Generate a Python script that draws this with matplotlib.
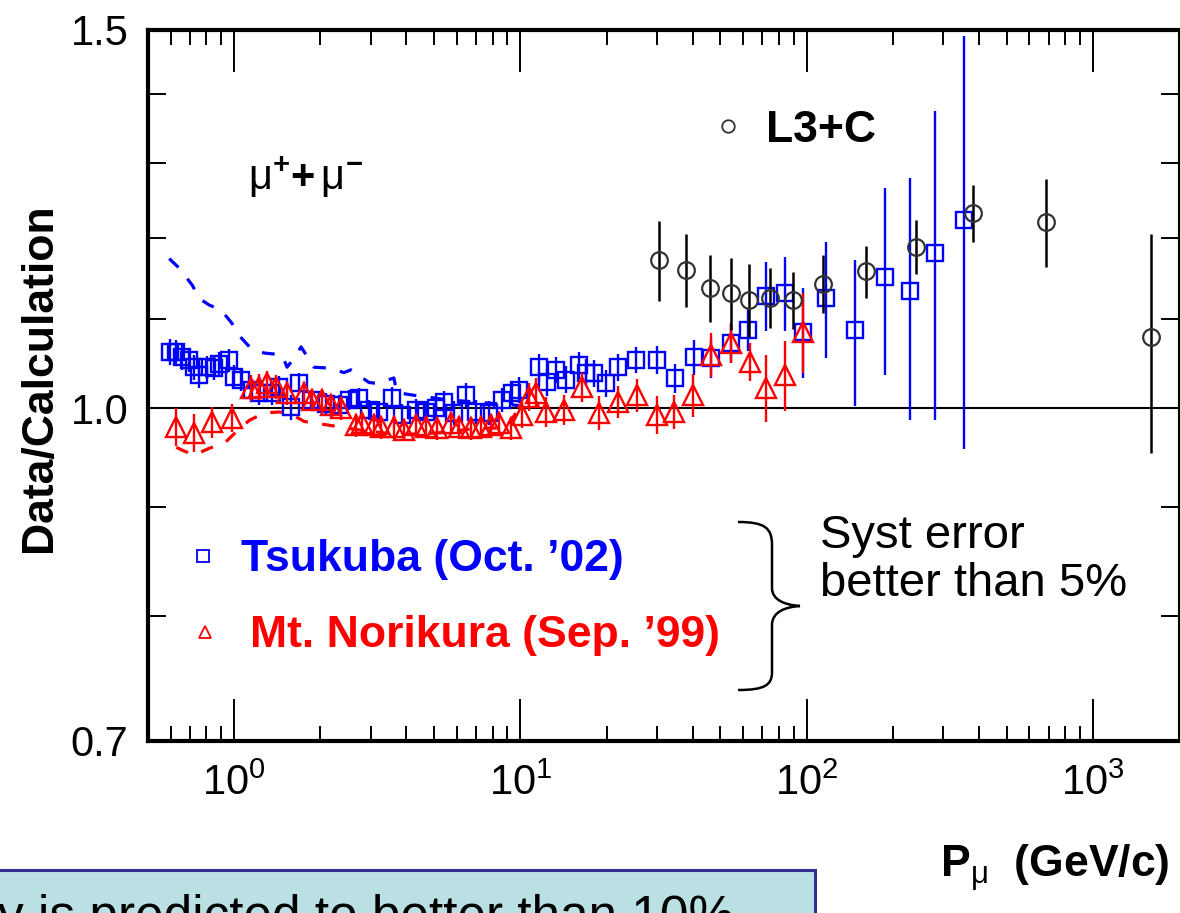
import matplotlib.pyplot as plt
from matplotlib.lines import Line2D
from matplotlib.patches import Rectangle, PathPatch
from matplotlib.path import Path
from matplotlib.ticker import FixedLocator, FixedFormatter, NullFormatter

plt.rcParams['font.family'] = ['Liberation Sans', 'DejaVu Sans']
plt.rcParams['mathtext.fontset'] = 'custom'
plt.rcParams['mathtext.rm'] = 'Liberation Sans'
plt.rcParams['mathtext.it'] = 'Liberation Sans:italic'
plt.rcParams['mathtext.bf'] = 'Liberation Sans:bold'

# Tsukuba (Oct. '02): momentum [GeV/c], data/calculation ratio, error
tsukuba_p = [0.598, 0.628, 0.659, 0.697, 0.725, 0.755, 0.805, 0.852, 0.887, 0.961,
             1.00, 1.058, 1.156, 1.222, 1.357, 1.435, 1.580, 1.686, 1.856, 2.094,
             2.324, 2.518, 2.729, 2.958, 3.205, 3.557, 3.855, 4.314, 4.674, 5.066,
             5.402, 5.852, 6.443, 6.983, 7.752, 8.607, 9.327, 9.865, 11.58, 12.35,
             13.28, 14.39, 15.97, 16.90, 18.02, 19.84, 21.9, 25.4, 30.0, 34.8,
             40.5, 46.5, 54.6, 62.6, 72.3, 84.2, 97.3, 117.1, 147.8, 188.0,
             229.8, 281.0, 354.6]
tsukuba_r = [1.062, 1.062, 1.056, 1.053, 1.045, 1.036, 1.045, 1.044, 1.049, 1.053,
             1.034, 1.031, 1.020, 1.016, 1.016, 1.023, 1.001, 1.027, 1.009, 1.005,
             1.003, 1.009, 1.011, 0.998, 0.996, 1.011, 0.993, 0.998, 0.996, 1.000,
             1.007, 0.995, 1.014, 0.996, 0.995, 1.009, 1.017, 1.020, 1.045, 1.028,
             1.042, 1.031, 1.047, 1.039, 1.038, 1.027, 1.045, 1.053, 1.053, 1.033,
             1.056, 1.055, 1.072, 1.088, 1.128, 1.131, 1.085, 1.125, 1.087, 1.151,
             1.134, 1.181, 1.224]
tsukuba_e = [0.015, 0.014, 0.014, 0.013, 0.014, 0.014, 0.013, 0.013, 0.013, 0.013,
             0.013, 0.012, 0.012, 0.012, 0.012, 0.012, 0.013, 0.012, 0.011, 0.011,
             0.011, 0.011, 0.011, 0.011, 0.012, 0.012, 0.012, 0.012, 0.012, 0.012,
             0.012, 0.013, 0.013, 0.013, 0.013, 0.013, 0.013, 0.014, 0.015, 0.015,
             0.015, 0.015, 0.015, 0.015, 0.015, 0.015, 0.015, 0.015, 0.016, 0.016,
             0.020, 0.022, 0.022, 0.025, 0.042, 0.045, 0.052, 0.070, 0.085, 0.115,
             0.146, 0.194, 0.267]

# Mt. Norikura (Sep. '99)
norikura_p = [0.628, 0.725, 0.838, 0.984, 1.146, 1.222, 1.303, 1.401, 1.530, 1.755,
              1.871, 2.027, 2.180, 2.362, 2.664, 2.796, 3.079, 3.257, 3.614, 3.917,
              4.314, 4.674, 5.106, 5.713, 6.091, 6.707, 7.270, 7.878, 8.402, 9.252,
              10.10, 10.69, 11.31, 12.25, 14.16, 16.36, 18.76, 22.0, 25.6, 30.0,
              34.5, 40.2, 46.5, 54.6, 63.6, 72.3, 84.2, 97.3]
norikura_r = [0.980, 0.974, 0.985, 0.990, 1.022, 1.023, 1.027, 1.023, 1.016, 1.017,
              1.009, 1.009, 1.003, 1.000, 0.982, 0.984, 0.982, 0.980, 0.980, 0.977,
              0.982, 0.980, 0.979, 0.984, 0.980, 0.979, 0.980, 0.982, 0.984, 0.979,
              0.993, 1.012, 1.017, 0.996, 0.998, 1.023, 0.995, 1.007, 1.014, 0.993,
              0.996, 1.014, 1.059, 1.073, 1.051, 1.022, 1.036, 1.085]
norikura_e = [0.020, 0.020, 0.016, 0.015, 0.014, 0.014, 0.014, 0.013, 0.012, 0.012,
              0.012, 0.012, 0.012, 0.012, 0.012, 0.012, 0.012, 0.012, 0.012, 0.012,
              0.012, 0.012, 0.012, 0.012, 0.012, 0.012, 0.012, 0.012, 0.012, 0.012,
              0.014, 0.015, 0.016, 0.016, 0.016, 0.016, 0.018, 0.017, 0.018, 0.020,
              0.018, 0.023, 0.025, 0.023, 0.021, 0.037, 0.039, 0.047]

# L3+C
l3c_p = [30.4, 38.0, 46.1, 54.6, 63.1, 74.6, 89.8, 114.3, 161.4, 241.2, 381.2, 685.0, 1592.0]
l3c_r = [1.172, 1.160, 1.138, 1.131, 1.123, 1.126, 1.123, 1.143, 1.158, 1.189, 1.233, 1.221, 1.079]
l3c_e = [0.050, 0.045, 0.041, 0.044, 0.044, 0.036, 0.034, 0.035, 0.032, 0.034, 0.038, 0.057, 0.126]

# ratios against the alternative calculation (dashed)
tsukuba_alt_p = [0.593, 0.643, 0.714, 0.755, 0.818, 0.901, 0.984, 1.041, 1.146, 1.272,
                 1.470, 1.530, 1.619, 1.713, 1.901, 2.145, 2.419, 2.559, 2.958, 3.154,
                 3.614, 3.703, 4.245, 5.623, 9.865]
tsukuba_alt_r = [1.174, 1.162, 1.141, 1.125, 1.117, 1.111, 1.095, 1.081, 1.066, 1.061,
                 1.059, 1.045, 1.055, 1.068, 1.045, 1.044, 1.039, 1.042, 1.028, 1.027,
                 1.033, 1.017, 1.014, 1.009, 1.003]
norikura_alt_p = [0.628, 0.659, 0.725, 0.818, 0.923, 1.016, 1.128, 1.272, 1.435, 1.555,
                  1.755, 2.145, 2.729, 3.762, 5.189, 7.153, 8.887, 9.707, 10.69]
norikura_alt_r = [0.959, 0.956, 0.951, 0.958, 0.963, 0.975, 0.987, 0.995, 0.996, 0.995,
                  0.986, 0.982, 0.977, 0.972, 0.974, 0.979, 0.979, 0.996, 1.003]

BLUE = '#0000ff'
RED = '#ff0000'
GREY = '#333333'

W, H = 1180, 913
fig = plt.figure(figsize=(W / 100, H / 100), dpi=100)
ax = fig.add_axes([148 / W, 1 - 741 / H, 1031 / W, 711 / H])
ax.set_xscale('log')
ax.set_yscale('log')
ax.set_xlim(0.5, 2000)
ax.set_ylim(0.7, 1.5)

ax.axhline(1.0, color='black', lw=1.5, zorder=1)

ax.plot(tsukuba_alt_p, tsukuba_alt_r, color=BLUE, lw=2.3, ls=(0, (4, 4.5)), zorder=2)
ax.plot(norikura_alt_p, norikura_alt_r, color=RED, lw=2.3, ls=(0, (4, 4.5)), zorder=2)

ax.errorbar(tsukuba_p, tsukuba_r, yerr=tsukuba_e, fmt='s', ms=12, mfc='none', mec=BLUE,
            mew=1.7, ecolor=BLUE, elinewidth=1.7, capsize=0, zorder=3)
ax.errorbar(norikura_p, norikura_r, yerr=norikura_e, fmt='^', ms=14, mfc='none', mec=RED,
            mew=1.7, ecolor=RED, elinewidth=1.7, capsize=0, zorder=4)
ax.errorbar(l3c_p, l3c_r, yerr=l3c_e, fmt='o', ms=12, mfc='none', mec=GREY,
            mew=1.6, ecolor='black', elinewidth=1.8, capsize=0, zorder=5)

# axes, ticks
ax.yaxis.set_major_locator(FixedLocator([0.7, 1.0, 1.5]))
ax.yaxis.set_major_formatter(FixedFormatter(['0.7', '1.0', '1.5']))
ax.yaxis.set_minor_locator(FixedLocator([0.8, 0.9, 1.1, 1.2, 1.3, 1.4]))
ax.yaxis.set_minor_formatter(NullFormatter())
ax.xaxis.set_minor_formatter(NullFormatter())
ax.tick_params(which='both', direction='in', top=True, right=True, color='black')
ax.tick_params(axis='x', which='major', length=30, width=1.4, labelsize=30, pad=16)
ax.tick_params(axis='x', which='minor', length=11, width=1.4)
ax.tick_params(axis='y', which='both', length=13, width=1.4, labelsize=30, pad=14)
for side in ['left', 'top', 'bottom']:
    ax.spines[side].set_linewidth(3)
ax.spines['right'].set_linewidth(1.5)

# legends
h_l3c = Line2D([], [], ls='none', marker='o', ms=9, mfc='none', mec=GREY, mew=1.3)
h_tsu = Line2D([], [], ls='none', marker='s', ms=8, mfc='none', mec=BLUE, mew=1.3)
h_nor = Line2D([], [], ls='none', marker='^', ms=9, mfc='none', mec=RED, mew=1.3)
leg_kw = dict(frameon=False, prop=dict(weight='bold', size=32), handlelength=0.5,
              borderpad=0, borderaxespad=0, loc='center left')
leg1 = ax.legend([h_l3c], ['L3+C'], bbox_to_anchor=(0.552, 0.859), handletextpad=0.6,
                 labelcolor='black', **leg_kw)
ax.add_artist(leg1)
leg2 = ax.legend([h_tsu], ["Tsukuba (Oct. \u201902)"], bbox_to_anchor=(0.0427, 0.2546),
                 handletextpad=0.6, labelcolor=BLUE, **leg_kw)
ax.add_artist(leg2)
ax.legend([h_nor], ["Mt. Norikura (Sep. \u201999)"], bbox_to_anchor=(0.0446, 0.1477),
          handletextpad=0.77, labelcolor=RED, **leg_kw)

ax.text(0.097, 0.775, r'$\mathrm{\mu}^{\mathbf{+}}\mathbf{+}\,\mathrm{\mu}^{\mathbf{-}}$',
        transform=ax.transAxes, fontsize=30, va='baseline', ha='left')

# labels
fig.text(40 / W, 1 - 378 / H, 'Data/Calculation', rotation=90, ha='center', va='center',
         fontsize=32, fontweight='bold')
fig.text(940 / W, 1 - 878 / H, r'$\mathbf{P}_{\mathrm{\mu}}$  (GeV/c)', fontsize=32,
         fontweight='bold', ha='left', va='baseline')

# brace and note on systematic error
def px(x, y):
    return (x / W, 1 - y / H)

brace = Path([px(738, 522), px(765, 522), px(772, 528), px(772, 545), px(772, 588),
              px(772, 600), px(785, 605), px(800, 606),
              px(785, 607), px(772, 612), px(772, 625), px(772, 672),
              px(772, 685), px(765, 690), px(738, 690)],
             [Path.MOVETO, Path.CURVE4, Path.CURVE4, Path.CURVE4, Path.LINETO,
              Path.CURVE4, Path.CURVE4, Path.CURVE4,
              Path.CURVE4, Path.CURVE4, Path.CURVE4, Path.LINETO,
              Path.CURVE4, Path.CURVE4, Path.CURVE4])
fig.add_artist(PathPatch(brace, transform=fig.transFigure, fill=False, lw=1.8, color='black'))
fig.text(820 / W, 1 - 596 / H, 'Syst error\nbetter than 5%', fontsize=34, ha='left',
         va='baseline', linespacing=1.12)

# note box along the bottom edge (its text runs past the lower edge)
fig.add_artist(Rectangle((-10 / W, -0.1), 825 / W, 0.1 + (913 - 870) / H,
                         transform=fig.transFigure, facecolor='#bbe0e3',
                         edgecolor='#2e3192', lw=2.2))
fig.text(-2 / W, 1 - 932 / H, 'y is predicted to better than 10%', fontsize=37,
         ha='left', va='baseline')

fig.savefig('out.png', dpi=100)
